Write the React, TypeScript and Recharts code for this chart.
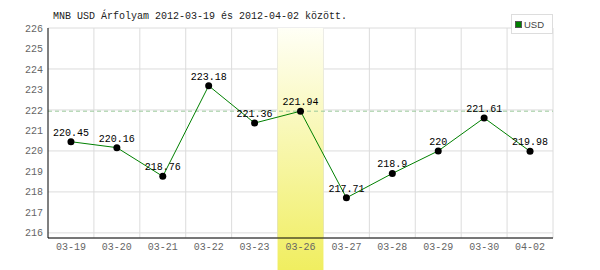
import {
  LineChart,
  Line,
  XAxis,
  YAxis,
  CartesianGrid,
  ReferenceArea,
  ReferenceLine,
  LabelList,
  Legend,
} from "recharts";

const days = [
  "03-19", "03-20", "03-21", "03-22", "03-23", "03-26",
  "03-27", "03-28", "03-29", "03-30", "04-02",
];
const usd = [
  220.45, 220.16, 218.76, 223.18, 221.36, 221.94,
  217.71, 218.9, 220, 221.61, 219.98,
];
const yTicks = [216, 217, 218, 219, 220, 221, 222, 223, 224, 225, 226];
const highlightDay = "03-26";
const title = "MNB USD Árfolyam 2012-03-19 és 2012-04-02 között.";

const data = days.map((day, i) => ({ day, USD: usd[i] }));
const highlightValue = usd[days.indexOf(highlightDay)];

const MONO = "'Liberation Mono', 'DejaVu Sans Mono', monospace";

// yellow column, runs down past the axis over the tick label
const Highlight = (props: any) => {
  const { x, y, width, height } = props;
  return (
    <g>
      <defs>
        <linearGradient id="hl" x1="0" y1="0" x2="0" y2="1">
          <stop offset="0%" stopColor="#fffff6" />
          <stop offset="100%" stopColor="#f0ee60" />
        </linearGradient>
      </defs>
      <rect x={x} y={y} width={width} height={height + 32} fill="url(#hl)" />
    </g>
  );
};

const LegendBox = ({ payload }: any) => (
  <div
    style={{
      border: "1px solid #ddd",
      background: "#fff",
      height: 18,
      display: "flex",
      alignItems: "center",
      paddingLeft: 3,
    }}
  >
    {(payload || []).map((p: any) => (
      <span key={p.value} style={{ display: "flex", alignItems: "center" }}>
        <span
          style={{
            width: 5,
            height: 5,
            background: "#008000",
            border: "1px solid #555",
            marginRight: 2,
          }}
        />
        <span style={{ font: "9.5px 'Liberation Sans', Arial, sans-serif", color: "#444" }}>
          {p.value}
        </span>
      </span>
    ))}
  </div>
);

export default function App() {
  return (
    <div style={{ position: "absolute", left: 0, top: 0, width: 600, height: 270, background: "#fff" }}>
      <div
        style={{
          position: "absolute",
          left: 53,
          top: 11,
          font: `10px ${MONO}`,
          color: "#222",
          whiteSpace: "nowrap",
        }}
      >
        {title}
      </div>
      <LineChart
        width={600}
        height={270}
        data={data}
        margin={{ top: 28, right: 47, bottom: 12, left: 0 }}
      >
        <CartesianGrid
          stroke="#dcdcdc"
          verticalCoordinatesGenerator={({ offset }: any) =>
            days.map((_, i) => offset.left + (offset.width * (i + 1)) / days.length)
          }
        />
        <ReferenceLine
          y={highlightValue}
          stroke="#99c899"
          strokeDasharray="4 3"
        />
        <ReferenceArea x1={highlightDay} x2={highlightDay} shape={Highlight} />
        <XAxis
          dataKey="day"
          scale="band"
          height={20}
          tickLine={false}
          tickSize={3}
          tickMargin={2}
          axisLine={{ stroke: "#000" }}
          tick={{ fill: "#666", fontSize: 10, fontFamily: MONO }}
          interval={0}
        />
        <YAxis
          width={48}
          domain={[215.75, 226]}
          ticks={yTicks}
          allowDataOverflow
          tickLine={false}
          tickSize={3}
          tickMargin={2}
          axisLine={{ stroke: "#000" }}
          tick={{ fill: "#666", fontSize: 10, fontFamily: MONO }}
        />
        <Legend
          layout="vertical"
          align="center"
          verticalAlign="middle"
          wrapperStyle={{ top: 14, left: 511, width: 42, height: 20 }}
          content={LegendBox}
        />
        <Line
          dataKey="USD"
          stroke="#008000"
          strokeWidth={1}
          dot={{ r: 3.5, fill: "#000", stroke: "none" }}
          activeDot={false}
          isAnimationActive={false}
        >
          <LabelList
            dataKey="USD"
            position="top"
            offset={6}
            fill="#000"
            fontSize={10}
            fontFamily={MONO}
          />
        </Line>
      </LineChart>
    </div>
  );
}
